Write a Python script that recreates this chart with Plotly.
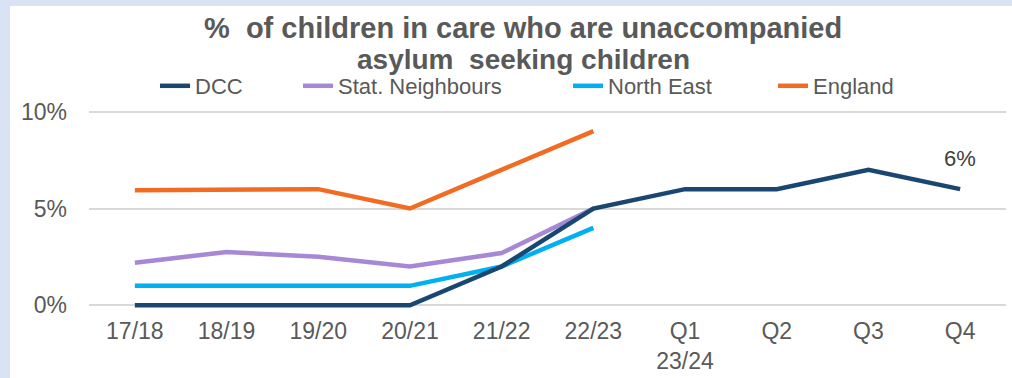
import plotly.graph_objects as go

categories = ["17/18", "18/19", "19/20", "20/21", "21/22", "22/23", "Q1<br>23/24", "Q2", "Q3", "Q4"]
dcc = [0, 0, 0, 0, 2, 5, 6, 6, 7, 6]
stat_neighbours = [2.2, 2.75, 2.5, 2.0, 2.7, 5.0]
north_east = [1, 1, 1, 1, 2, 4]
england = [5.95, 6.0, 6.0, 5.0, 7.0, 9.0]
y_ticks = [0, 5, 10]
y_tick_labels = ["0%", "5%", "10%"]
title_lines = ["%  of children in care who are unaccompanied", "asylum  seeking children"]

colors = {
    "DCC": "#1A4771",
    "Stat. Neighbours": "#A788D4",
    "North East": "#00B0F0",
    "England": "#F26B23",
}

W, H = 1012, 378
L, R, T, B = 89, 6, 106, 67
pw, ph = W - L - R, H - T - B


def px_x(px):
    return (px - L) / pw


def px_y(py):
    return (H - B - py) / ph


series = [
    ("DCC", dcc, "legend", 155),
    ("Stat. Neighbours", stat_neighbours, "legend2", 298),
    ("North East", north_east, "legend3", 568),
    ("England", england, "legend4", 773),
]

fig = go.Figure()
# draw DCC last so it is on top
for name, vals, leg, _ in series[1:] + series[:1]:
    fig.add_trace(go.Scatter(
        x=categories[:len(vals)], y=vals, name=name, mode="lines",
        line=dict(color=colors[name], width=4.5),
        legend=leg, hoverinfo="skip",
    ))

legend_layouts = {}
for name, vals, leg, lx in series:
    legend_layouts[leg] = dict(
        orientation="h", x=px_x(lx), xanchor="left",
        y=px_y(86), yanchor="middle",
        font=dict(size=22, color="#595959"),
        bgcolor="rgba(0,0,0,0)",
    )

fig.add_shape(type="rect", xref="paper", yref="paper",
              x0=px_x(10), x1=px_x(1030), y0=px_y(400), y1=px_y(6),
              fillcolor="white", line=dict(width=0), layer="below")

fig.add_annotation(xref="paper", yref="paper", x=px_x(523), y=px_y(28),
                   xanchor="center", yanchor="middle", showarrow=False,
                   text="<b>" + title_lines[0] + "</b>",
                   font=dict(size=29, color="#595959"))
fig.add_annotation(xref="paper", yref="paper", x=px_x(523), y=px_y(59),
                   xanchor="center", yanchor="middle", showarrow=False,
                   text="<b>" + title_lines[1] + "</b>",
                   font=dict(size=28, color="#595959"))

fig.add_annotation(x=categories[9], y=dcc[9], text="6%", showarrow=False,
                   yshift=31, font=dict(size=22, color="#404040"))

fig.update_layout(
    width=W, height=H,
    margin=dict(l=L, r=R, t=T, b=B, autoexpand=False),
    paper_bgcolor="#DAE3F3",
    plot_bgcolor="white",
    font=dict(family="Liberation Sans, Arial, sans-serif", color="#595959"),
    showlegend=True,
    xaxis=dict(
        type="category", categoryorder="array", categoryarray=categories,
        range=[-0.5, 9.5], showgrid=False, zeroline=False, showline=False,
        tickfont=dict(size=23, color="#595959"), ticks="",
        ticklabelstandoff=4,
    ),
    yaxis=dict(
        range=[-0.3, 10.3], tickvals=y_ticks, ticktext=y_tick_labels,
        showgrid=True, gridcolor="#D9D9D9", gridwidth=2, zeroline=False,
        tickfont=dict(size=23, color="#595959"), ticklabelstandoff=21,
    ),
    **legend_layouts,
)

fig.write_html("out.html", post_script="document.body.style.margin='0';",
               config={"displayModeBar": False})
